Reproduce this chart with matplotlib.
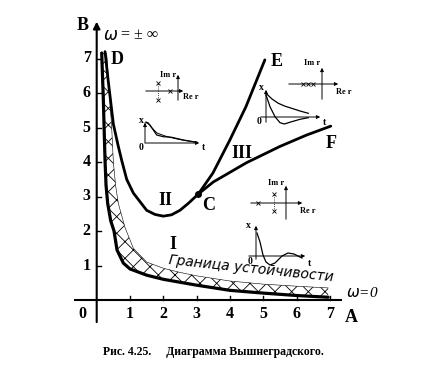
import matplotlib.pyplot as plt
import numpy as np

plt.rcParams['hatch.linewidth'] = 0.6

# stability boundary  A*B = 1 (as drawn)
bound_a = [0.15, 0.2, 0.22, 0.25, 0.28, 0.33, 0.42, 0.52, 0.61, 0.8, 1.0, 1.5, 2.0, 3.0, 4.0, 5.0, 6.0, 6.95]
bound_b = [7.16, 5.8, 5.07, 4.06, 3.33, 2.8, 2.3, 2.0, 1.45, 1.07, 0.9, 0.72, 0.6, 0.43, 0.28, 0.2, 0.13, 0.08]
# upper edge of the hatched strip
hatch_a = [0.3, 0.38, 0.45, 0.5, 0.57, 0.65, 0.85, 1.1, 1.5, 2.0, 2.5, 3.0, 4.0, 5.0, 6.0, 6.95]
hatch_b = [7.15, 6.0, 5.0, 4.0, 3.3, 2.8, 2.1, 1.5, 1.1, 0.92, 0.8, 0.7, 0.55, 0.46, 0.4, 0.35]
# curve D-C
dc_a = [0.25, 0.34, 0.5, 0.64, 0.75, 0.9, 1.1, 1.5, 1.75, 2.0, 2.25, 2.5, 2.75, 3.05]
dc_b = [7.2, 6.4, 5.1, 4.49, 4.05, 3.5, 3.1, 2.6, 2.48, 2.43, 2.47, 2.6, 2.8, 3.07]
# curve C-E
ce_a = [3.05, 3.49, 4.0, 4.48, 5.05]
ce_b = [3.07, 3.68, 4.64, 5.6, 6.96]
# curve C-F
cf_a = [3.05, 3.5, 4.5, 5.5, 6.3, 7.03]
cf_b = [3.07, 3.42, 3.98, 4.45, 4.78, 5.04]

ticks = [1, 2, 3, 4, 5, 6, 7]

# insets: pole maps (local units)
poles1_re = [-2.0, -2.0, -0.8]
poles1_im = [0.85, -0.85, 0.0]
poles2_re = [-1.9, -1.4, -0.9]
poles2_im = [0.0, 0.0, 0.0]
poles3_re = [-2.8, -1.2, -1.2]
poles3_im = [0.0, 0.85, -0.85]
# insets: transient responses (local units)
resp1_t = [0.1, 0.5, 0.83, 1.17, 1.83, 2.67, 3.83, 5.17]
resp1_x = [2.1, 1.8, 1.3, 0.8, 0.63, 0.57, 0.3, 0.07]
resp1b_t = [0.0, 0.3, 0.6, 1.2, 2.0, 3.0, 4.0, 5.2]
resp1b_x = [2.0, 2.05, 1.6, 1.0, 0.7, 0.45, 0.25, 0.07]
resp2a_t = [0.0, 0.6, 1.23, 1.9, 2.57, 3.4, 4.23]
resp2a_x = [2.37, 1.8, 1.37, 1.08, 0.87, 0.6, 0.37]
resp2b_t = [0.0, 0.4, 0.9, 1.4, 1.83, 2.57, 3.4, 4.23]
resp2b_x = [2.2, 1.03, 0.03, -0.57, -0.7, -0.47, -0.23, -0.07]
resp3_t = [0.1, 0.4, 0.7, 1.0, 1.4, 1.9, 2.6, 3.2, 3.8, 4.6]
resp3_x = [2.3, 1.4, 0.1, -0.6, -0.9, -0.7, 0.0, 0.3, 0.2, -0.2]

# pixel geometry of the original picture
X0, SX, Y0, SY = 96.7, 33.3, 300.0, 34.5

def px(x, y):
	return (x - X0) / SX, (Y0 - y) / SY

fig = plt.figure(figsize = (4.26, 3.69), dpi = 100)
ax = fig.add_axes([0, 0, 1, 1])
ax.set_xlim(px(0, 0)[0], px(426, 0)[0])
ax.set_ylim(px(0, 369)[1], px(0, 0)[1])
ax.axis('off')

serif = 'Liberation Serif'

# axes
ax.plot([-0.65, 7.34], [0, 0], color = 'black', lw = 1.5)
ax.annotate('', xy = (0, 8.15), xytext = (0, -0.72),
	arrowprops = dict(arrowstyle = '-|>', color = 'black', lw = 1.5, mutation_scale = 10))
for t in ticks:
	ax.plot([t, t], [0, 0.13], color = 'black', lw = 1.0)
	ax.plot([0, 0.13], [t, t], color = 'black', lw = 1.0)
	ax.text(t, -0.4, str(t), ha = 'center', va = 'center', fontsize = 11.5, fontweight = 'bold', family = serif)
	ax.text(-0.3, t, str(t), ha = 'center', va = 'center', fontsize = 11.5, fontweight = 'bold', family = serif)
ax.text(-0.44, -0.4, '0', ha = 'center', va = 'center', fontsize = 11.5, fontweight = 'bold', family = serif)
ax.text(-0.42, 7.95, 'B', ha = 'center', va = 'center', fontsize = 13, fontweight = 'bold', family = serif)
ax.text(7.65, -0.5, 'A', ha = 'center', va = 'center', fontsize = 13, fontweight = 'bold', family = serif)

# hatched strip and curves
poly_a = bound_a + hatch_a[::-1]
poly_b = bound_b + hatch_b[::-1]
ax.fill(poly_a, poly_b, facecolor = 'none', edgecolor = 'black', hatch = 'xx', lw = 0)
ax.plot(hatch_a, hatch_b, color = 'black', lw = 0.4)
ax.plot(bound_a, bound_b, color = 'black', lw = 2.3, solid_capstyle = 'round')
ax.plot(dc_a, dc_b, color = 'black', lw = 2.0, solid_capstyle = 'round')
ax.plot(ce_a, ce_b, color = 'black', lw = 2.0, solid_capstyle = 'round')
ax.plot(cf_a, cf_b, color = 'black', lw = 2.0, solid_capstyle = 'round')
ax.plot([ce_a[0]], [ce_b[0]], 'o', color = 'black', ms = 4)

# labels
ax.text(0.19, 7.68, r'$\omega$', ha = 'left', va = 'center', fontsize = 12)
ax.text(0.72, 7.68, '= ± ∞', ha = 'left', va = 'center', fontsize = 11.5, family = serif)
lab = dict(ha = 'center', va = 'center', fontsize = 13, fontweight = 'bold', family = serif)
ax.text(0.62, 6.98, 'D', **lab)
ax.text(5.4, 6.9, 'E', **lab)
ax.text(7.05, 4.55, 'F', **lab)
ax.text(4.35, 4.25, 'III', **lab)
ax.text(2.05, 2.87, 'II', **lab)
ax.text(3.35, 2.75, 'C', **lab)
ax.text(2.3, 1.6, 'I', **lab)
ax.text(4.65, 0.92, 'Граница устойчивости', ha = 'center', va = 'center', fontsize = 10,
	style = 'italic', family = 'DejaVu Sans', rotation = -6)
ax.text(7.5, 0.2, r'$\omega$=0', ha = 'left', va = 'center', fontsize = 11, style = 'italic', family = serif)
ax.text(px(213, 0)[0], px(0, 352)[1], 'Рис. 4.25.     Диаграмма Вышнеградского.', ha = 'center', va = 'center',
	fontsize = 8.5, fontweight = 'bold', family = serif)

def inset(box, origin):
	# box = (left, top, right, bottom) in pixels, origin = axes crossing in pixels, 10 px per unit
	l, t, r, b = box
	x0, y0 = px(l, b)
	x1, y1 = px(r, t)
	ia = ax.inset_axes([x0, y0, x1 - x0, y1 - y0], transform = ax.transData)
	ia.set_xlim((l - origin[0]) / 10, (r - origin[0]) / 10)
	ia.set_ylim((origin[1] - b) / 10, (origin[1] - t) / 10)
	ia.axis('off')
	ia.patch.set_alpha(0)
	return ia

def arrow_axes(ia, xr, yr):
	ia.annotate('', xy = (xr[1], 0), xytext = (xr[0], 0),
		arrowprops = dict(arrowstyle = '-|>', color = 'black', lw = 0.7, mutation_scale = 5))
	ia.annotate('', xy = (0, yr[1]), xytext = (0, yr[0]),
		arrowprops = dict(arrowstyle = '-|>', color = 'black', lw = 0.7, mutation_scale = 5))

def pole_map(ia, re, im, xr, yr, im_pos, re_pos):
	arrow_axes(ia, xr, yr)
	ia.plot(re, im, 'x', color = 'black', ms = 2.5, mew = 0.6)
	for r in set(re):
		ims = [im[i] for i in range(len(re)) if re[i] == r]
		if len(ims) > 1:
			ia.plot([r, r], [min(ims), max(ims)], ls = ':', color = 'black', lw = 0.6)
	ia.text(im_pos[0], im_pos[1], 'Im r', ha = 'right', va = 'center', fontsize = 6, fontweight = 'bold', family = serif)
	ia.text(re_pos[0], re_pos[1], 'Re r', ha = 'left', va = 'center', fontsize = 6, fontweight = 'bold', family = serif)

def resp_plot(ia, xr, yr, xl, ol, tl):
	arrow_axes(ia, xr, yr)
	ia.text(xl[0], xl[1], 'x', ha = 'center', va = 'center', fontsize = 7, fontweight = 'bold', family = serif)
	ia.text(ol[0], ol[1], '0', ha = 'center', va = 'center', fontsize = 7, fontweight = 'bold', family = serif)
	ia.text(tl[0], tl[1], 't', ha = 'center', va = 'center', fontsize = 7, fontweight = 'bold', family = serif)

# inset 1 (region II)
ia = inset((138, 66, 200, 108), (178, 91))
pole_map(ia, poles1_re, poles1_im, (-3.5, 0.8), (-1.2, 1.9), (-0.15, 1.6), (0.5, -0.6))
ia = inset((136, 115, 210, 152), (145, 143))
resp_plot(ia, (-0.2, 5.7), (-0.3, 2.3), (-0.4, 2.2), (-0.4, -0.5), (5.8, -0.5))
ia.plot(resp1_t, resp1_x, color = 'black', lw = 0.9)
ia.plot(resp1b_t, resp1b_x, color = 'black', lw = 0.7)

# inset 2 (region III)
ia = inset((282, 58, 352, 106), (322, 84))
pole_map(ia, poles2_re, poles2_im, (-3.6, 1.9), (-1.8, 1.9), (-0.15, 2.1), (1.4, -0.8))
ia = inset((250, 82, 330, 130), (266, 117))
resp_plot(ia, (-0.8, 5.7), (-0.8, 3.0), (-0.5, 2.9), (-0.7, -0.5), (5.8, -0.6))
ia.plot(resp2a_t, resp2a_x, color = 'black', lw = 0.9)
ia.plot(resp2b_t, resp2b_x, color = 'black', lw = 0.9)

# inset 3 (region I)
ia = inset((244, 178, 320, 226), (286, 203))
pole_map(ia, poles3_re, poles3_im, (-3.8, 1.9), (-1.9, 2.0), (-0.15, 2.0), (1.4, -0.8))
ia = inset((242, 218, 315, 270), (256, 256))
resp_plot(ia, (-1.0, 5.2), (-0.6, 3.3), (-0.8, 3.1), (-0.6, -0.6), (5.3, -0.8))
ia.plot(resp3_t, resp3_x, color = 'black', lw = 0.9)

plt.savefig('out.png', dpi = 100)
